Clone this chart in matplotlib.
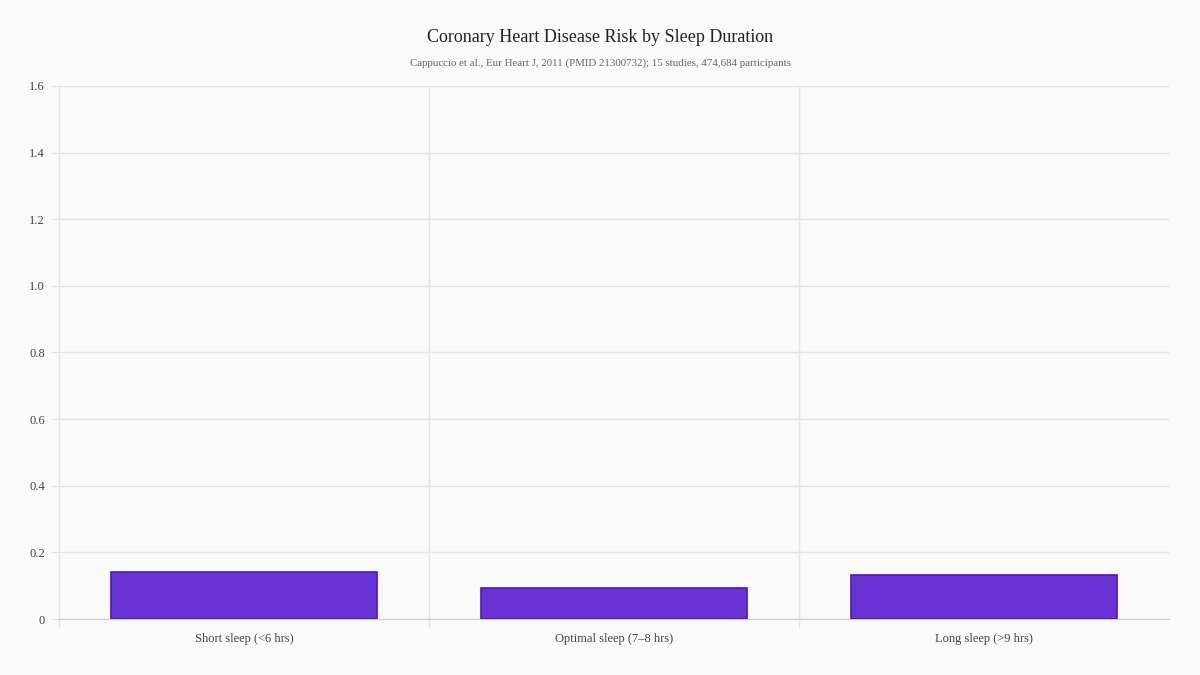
import numpy as np
import matplotlib.pyplot as plt

# Données
categories = ["Short sleep (<6 hrs)", "Optimal sleep (7–8 hrs)", "Long sleep (>9 hrs)"]
values = [0.14, 0.094, 0.131]
yticks = [0, 0.2, 0.4, 0.6, 0.8, 1.0, 1.2, 1.4, 1.6]
ytick_labels = ["0", "0.2", "0.4", "0.6", "0.8", "1.0", "1.2", "1.4", "1.6"]

plt.rcParams['font.family'] = ['Liberation Serif', 'DejaVu Serif']

bg = '#fafafa'
grid_col = '#e3e3e3'

fig = plt.figure(figsize=(12, 6.75), dpi=100, facecolor=bg)
ax = fig.add_axes([59/1200, 1 - 619/675, 1110/1200, 533/675], facecolor=bg)

x = np.arange(len(categories))
ax.bar(x, values, width=0.72, color='#6933d4', edgecolor='#4a14d6', linewidth=1.2, zorder=3)

ax.set_xlim(-0.5, 2.5)
ax.set_ylim(0, 1.6)
ax.set_yticks(yticks)
ax.set_yticklabels(ytick_labels)
ax.set_xticks(x)
ax.set_xticklabels(categories)
ax.set_xticks([-0.5, 0.5, 1.5], minor=True)

ax.grid(axis='y', color=grid_col, linewidth=1, zorder=0)
ax.grid(axis='x', which='minor', color=grid_col, linewidth=1, zorder=0)
ax.grid(axis='x', which='major', visible=False)

ax.tick_params(axis='x', which='major', length=0, pad=10, labelsize=9, labelcolor='#444444')
ax.tick_params(axis='x', which='minor', length=6.5, color=grid_col, width=1)
ax.tick_params(axis='y', length=6, color=grid_col, pad=4, labelsize=9, labelcolor='#444444')

for s in ['top', 'right']:
    ax.spines[s].set_visible(False)
ax.spines['left'].set_color(grid_col)
ax.spines['bottom'].set_color('#cccccc')

fig.text(0.5, 1 - 37/675, "Coronary Heart Disease Risk by Sleep Duration",
         ha='center', va='center', fontsize=13, color='#222222')
fig.text(0.5, 1 - 63/675, "Cappuccio et al., Eur Heart J, 2011 (PMID 21300732); 15 studies, 474,684 participants",
         ha='center', va='center', fontsize=7.8, color='#666666')

fig.savefig('out.png', dpi=100, facecolor=bg)
